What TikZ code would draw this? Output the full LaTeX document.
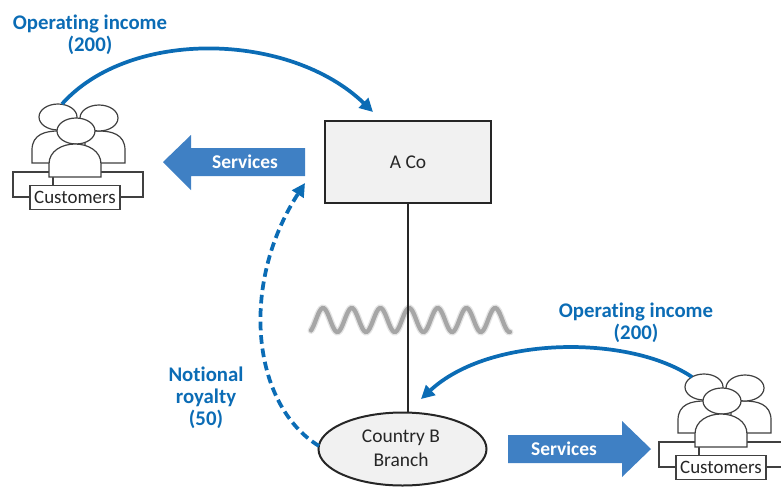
\documentclass[tikz,border=0pt]{standalone}
\usepackage{fontspec}
\setmainfont{Carlito}[Ligatures=NoCommon]
\usetikzlibrary{arrows.meta}
\definecolor{linkblue}{HTML}{0B6CB5}
\definecolor{blockblue}{HTML}{3F80C4}
\definecolor{boxgrey}{HTML}{F1F1F1}
\definecolor{outl}{HTML}{404040}
\definecolor{wavegrey}{HTML}{A6A6A6}
\tikzset{
  flowarc/.style={draw=linkblue,line width=2.8pt,-{Triangle[length=10pt,width=10pt]}},
  flowdash/.style={flowarc,dash pattern=on 6.5pt off 3.6pt},
  bluelabel/.style={text=linkblue,font=\fontsize{15.6}{15.6}\selectfont\bfseries,align=center,inner sep=0pt},
  blocktext/.style={text=white,font=\fontsize{14.6}{14.6}\selectfont\bfseries,inner sep=0pt},
  blockarrow/.style={fill=blockblue,draw=none},
  plaintext/.style={text=black!85,font=\fontsize{14.6}{16}\selectfont,align=center,inner sep=0pt},
  iconline/.style={draw=outl,line width=0.9pt,fill=white},
  customers/.pic={
    \coordinate (-head) at (62,104);
    \coordinate (-headb) at (46,107);
    \draw[iconline] (13,172) rectangle (143,197);
    \draw[iconline] (53,172) -- (53,186);
    \draw[iconline] (32,163) -- (32,150) .. controls (32,134) and (46,131) .. (58,131) -- (70,131) -- (70,163) -- cycle;
    \draw[iconline] (125,163) -- (125,150) .. controls (125,134) and (111,131) .. (99,131) -- (85,131) -- (85,163) -- cycle;
    \draw[iconline] (58,117) ellipse [x radius=19,y radius=13];
    \draw[iconline] (99,118) ellipse [x radius=19,y radius=13];
    \draw[iconline] (76,131) ellipse [x radius=19,y radius=13];
    \draw[iconline] (49,177) -- (49,164) .. controls (49,151) and (62,144) .. (75,144) .. controls (88,144) and (101,151) .. (101,164) -- (101,177) -- cycle;
    \node[draw=outl,line width=0.9pt,fill=white,minimum width=67.5pt,minimum height=18.5pt,inner sep=0pt,
          font=\fontsize{14.2}{14.2}\selectfont,text=black!85] (-label) at (75,197.5) {Customers};
  }
}
\begin{document}
\begin{tikzpicture}[x=0.75pt,y=-0.75pt]
\clip (0,0) rectangle (781,486);
% wave
\draw[wavegrey!30,line width=5.2pt,line cap=round,smooth] plot[domain=311:510,samples=140] (\x,{320-12*cos((\x-323)/28.7*360)});
\draw[wavegrey,line width=3.2pt,line cap=round,smooth] plot[domain=311:510,samples=140] (\x,{320-12*cos((\x-323)/28.7*360)});
% main nodes
\node[draw=black!85,line width=1.5pt,fill=boxgrey,minimum width=125pt,minimum height=61.5pt,plaintext] (aco) at (408,162) {A Co};
\coordinate (elltop) at (408,412);
\draw[black!85,line width=1.5pt] (aco.south) -- (elltop);
\draw[draw=black!85,line width=1.5pt,fill=boxgrey] (402.5,449) ellipse [x radius=84,y radius=36.5];
\coordinate (branchL) at (319,446);
\coordinate (branchT) at (421,399);
\node[plaintext] (branch) at (401,448.5) {Country B\\[2pt]Branch};
% customers
\pic (cl) at (0,0) {customers};
\pic (cr) at (646,270) {customers};
% flows
\coordinate (acoTop) at (373,112);
\coordinate (acoLeft) at (305,183);
\draw[flowarc] (cl-head) .. controls (130,28) and (290,32) .. (acoTop);
\draw[flowarc] (cr-headb) .. controls (630,335) and (490,335) .. (branchT);
\draw[flowdash] (branchL) .. controls (252,405) and (239,285) .. (acoLeft);
% block arrows
\path[blockarrow] (305,148) -- (191,148) -- (191,135) -- (163,162) -- (191,190) -- (191,176) -- (305,176) -- cycle;
\path[blockarrow] (508,435) -- (622,435) -- (622,421) -- (651,449) -- (622,477) -- (622,463) -- (508,463) -- cycle;
\node[blocktext] (svc1) at (245,162) {Services};
\node[blocktext] (svc2) at (564,449) {Services};
% labels
\node[bluelabel] (inc1) at (90,34.5) {Operating income\\[1pt](200)};
\node[bluelabel] (inc2) at (636,322.5) {Operating income\\[1pt](200)};
\node[bluelabel] (roy) at (206,397.5) {Notional\\[1pt]royalty\\[1pt](50)};
\end{tikzpicture}
\end{document}
